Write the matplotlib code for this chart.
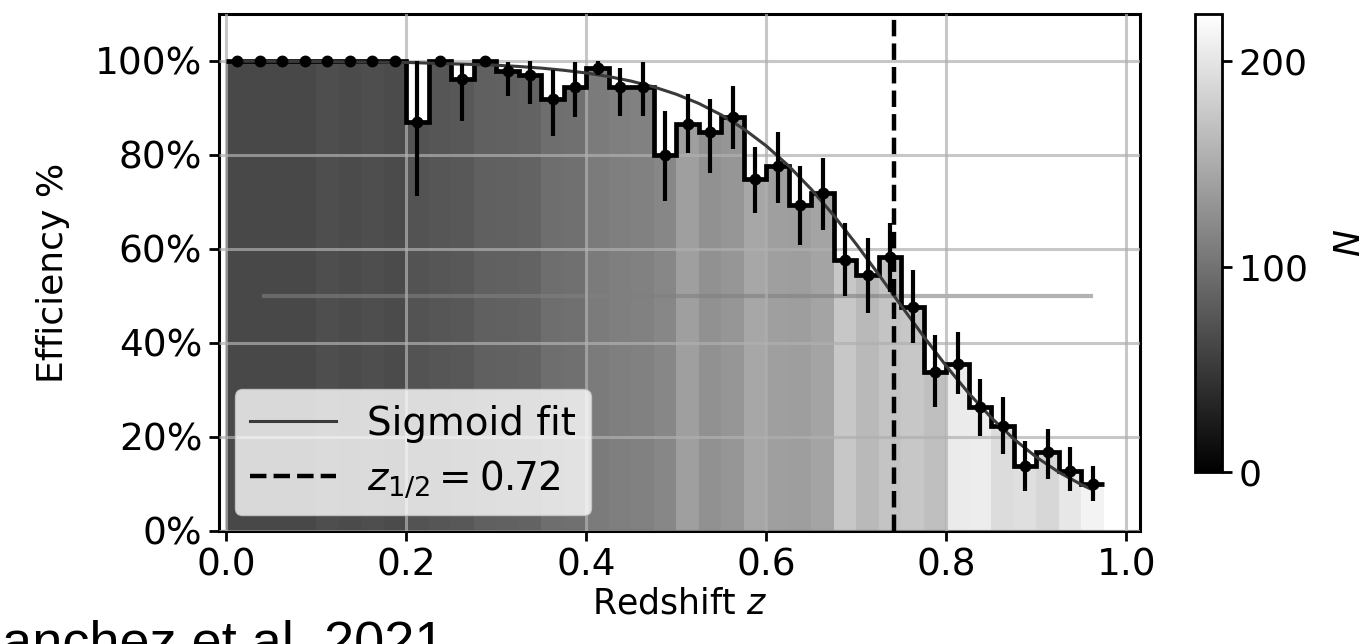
import numpy as np
import matplotlib
matplotlib.use("Agg")
import matplotlib.pyplot as plt
from matplotlib.ticker import PercentFormatter
from matplotlib.colors import Normalize
from matplotlib.cm import ScalarMappable

# ---------------- data ----------------
z_edges = [0.000, 0.025, 0.050, 0.075, 0.100, 0.125, 0.150, 0.175, 0.200, 0.225,
           0.250, 0.275, 0.300, 0.325, 0.350, 0.375, 0.400, 0.425, 0.450, 0.475,
           0.500, 0.525, 0.550, 0.575, 0.600, 0.625, 0.650, 0.675, 0.700, 0.725,
           0.750, 0.775, 0.800, 0.825, 0.850, 0.875, 0.900, 0.925, 0.950, 0.975]

efficiency = [100, 100, 100, 100, 100, 100, 100, 100, 87.0, 100,
              96.2, 100, 97.8, 97.0, 92.0, 94.4, 98.6, 94.5, 94.4, 80.1,
              86.5, 84.8, 88.0, 74.8, 77.6, 69.4, 71.9, 57.7, 54.5, 58.2,
              47.7, 33.8, 35.6, 26.4, 22.4, 13.9, 16.7, 12.8, 10.0]

err_low = [0, 0, 0, 0, 0, 0, 0, 0, 15.8, 0,
           9.0, 0, 5.2, 6.2, 8.0, 6.4, 1.5, 6.2, 6.1, 9.8,
           6.0, 8.6, 6.8, 7.1, 7.8, 8.5, 7.8, 7.7, 8.2, 7.3,
           7.8, 7.4, 6.4, 6.1, 6.0, 5.4, 5.7, 4.3, 3.6]

err_high = [0, 0, 0, 0, 0, 0, 0, 0, 13.0, 0,
            3.2, 0, 2.0, 3.0, 6.0, 5.3, 1.4, 4.1, 5.3, 9.3,
            6.4, 7.1, 6.7, 6.8, 7.2, 8.2, 7.5, 7.9, 7.8, 7.3,
            7.9, 7.9, 6.8, 6.0, 6.1, 5.3, 5.0, 5.0, 3.9]

counts_N = [63, 63, 63, 63, 68, 66, 68, 66, 73, 75,
            77, 84, 85, 87, 96, 98, 108, 111, 113, 118,
            139, 127, 131, 146, 139, 138, 143, 174, 162, 171,
            174, 167, 205, 207, 192, 195, 188, 202, 212]

fit_z = [0.0125, 0.1, 0.2, 0.3, 0.325, 0.35, 0.375, 0.4, 0.425, 0.45, 0.475,
         0.5, 0.525, 0.55, 0.575, 0.6, 0.625, 0.65, 0.675, 0.7, 0.725,
         0.75, 0.775, 0.8, 0.825, 0.85, 0.875, 0.9, 0.925, 0.95, 0.9625]
fit_eff = [99.96, 99.89, 99.69, 99.10, 98.83, 98.48, 98.02, 97.44, 96.68, 95.71, 94.48,
           92.92, 90.96, 88.52, 85.53, 81.92, 77.64, 72.68, 67.10, 60.99, 54.51,
           47.87, 41.31, 35.05, 29.26, 24.07, 19.55, 15.70, 12.49, 9.86, 8.74]

z_half_line = 0.742
z_half_label = r"$z_{1/2} = 0.72$"
half_level = 50
half_span = (0.04, 0.9625)
N_max = 223
x_ticks = [0.0, 0.2, 0.4, 0.6, 0.8, 1.0]
y_ticks = [0, 20, 40, 60, 80, 100]
cbar_ticks = [0, 100, 200]

# ---------------- figure ----------------
fig = plt.figure(figsize=(13.71, 6.44), dpi=100)
ax = fig.add_axes([0.1597, 0.1755, 0.6718, 0.8028])
cax = fig.add_axes([0.8716, 0.2671, 0.0197, 0.7112])

edges = np.array(z_edges)
centers = 0.5 * (edges[:-1] + edges[1:])
widths = np.diff(edges)

cmap = plt.get_cmap("gray")
norm = Normalize(vmin=0, vmax=N_max)

ax.bar(centers, efficiency, width=widths, color=cmap(norm(np.array(counts_N))),
       linewidth=0, zorder=1)
ax.hlines(half_level, half_span[0], half_span[1], color="gray", alpha=0.6,
          lw=3, zorder=2)
ax.stairs(efficiency, edges, baseline=None, color="black", lw=3.4, zorder=3)
ax.plot(fit_z, fit_eff, color="#3a3a3a", lw=2.2, label="Sigmoid fit", zorder=4)
ax.errorbar(centers, efficiency, yerr=[err_low, err_high], fmt="o", color="black",
            ms=7.5, elinewidth=3, capsize=0, zorder=5)
ax.axvline(z_half_line, color="black", ls="--", lw=3.2, label=z_half_label, zorder=6)

ax.set_xlim(-0.008, 1.015)
ax.set_ylim(0, 110)
ax.set_xticks(x_ticks)
ax.set_yticks(y_ticks)
ax.yaxis.set_major_formatter(PercentFormatter(decimals=0))
ax.set_axisbelow(False)
ax.grid(True, color="#b0b0b0", alpha=0.7, lw=2.2)
ax.tick_params(labelsize=27, length=7, width=2, direction="out", colors="black",
               pad=5)
for sp in ax.spines.values():
    sp.set_linewidth(2.2)
    sp.set_color("black")

ax.set_xlabel("Redshift $z$", fontsize=25, labelpad=2)
ax.set_ylabel("Efficiency %", fontsize=26, labelpad=18)

ax.legend(loc="lower left", fontsize=28, handlelength=2.2, framealpha=0.8,
          borderaxespad=0.4, handletextpad=0.8, labelspacing=0.4)

cb = fig.colorbar(ScalarMappable(norm=norm, cmap=cmap), cax=cax)
cb.set_ticks(cbar_ticks)
cb.ax.tick_params(labelsize=26, length=7, width=2, pad=5)
cb.outline.set_linewidth(2)
cb.set_label("$N$", fontsize=26, labelpad=18)

fig.text(445 / 1371, -0.023, "Sanchez et al. 2021", ha="right", va="baseline",
         fontsize=39, family="Liberation Sans", color="black")

fig.savefig("out.png", dpi=100)
